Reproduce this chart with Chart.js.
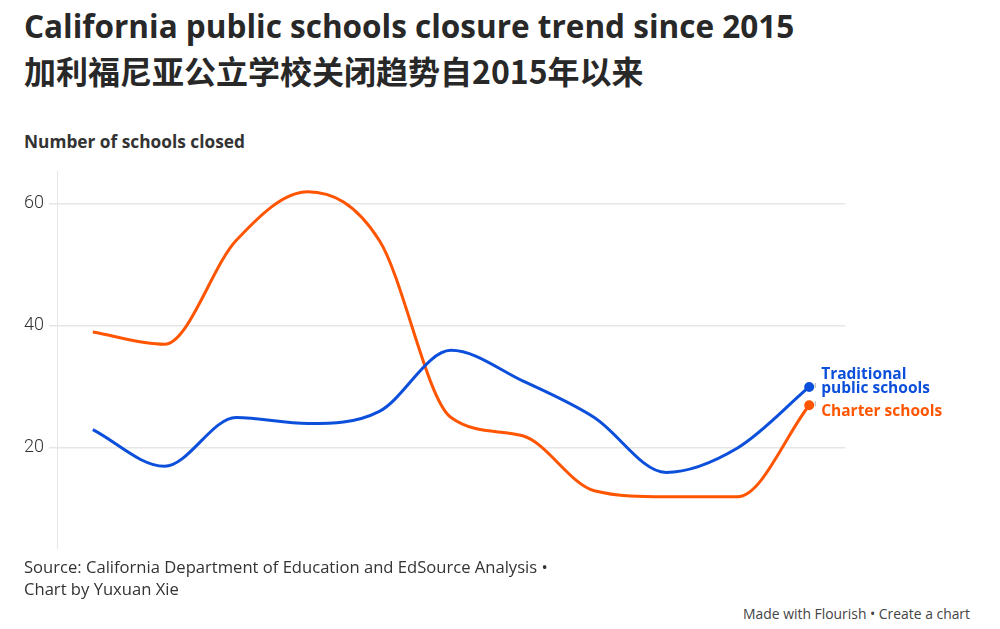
<!DOCTYPE html>
<html>
<head>
<meta charset="utf-8">
<script src="https://cdn.jsdelivr.net/npm/chart.js@4/dist/chart.umd.min.js"></script>
<style>
  html, body { margin: 0; padding: 0; background: #fff; }
  body { width: 1000px; height: 629px; position: relative; overflow: hidden; font-family: "Open Sans", Roboto, sans-serif; color: #333; }
  .title { position: absolute; left: 24px; top: 4px; font-size: 31.5px; font-weight: 700; color: #282828; line-height: 44px; }
  .title .zh { font-family: "Noto Sans CJK SC", sans-serif; font-size: 32px; }
  .sub { position: absolute; left: 24px; top: 130px; font-size: 17.3px; font-weight: 700; color: #333; }
  .chart-wrap { position: absolute; left: 0; top: 160px; width: 1000px; height: 400px; }
  .source { position: absolute; left: 24px; top: 556px; font-size: 16.6px; line-height: 22px; color: #333; }
  .made { position: absolute; right: 30px; top: 604px; font-size: 13.9px; color: #444; }
</style>
</head>
<body>
<div class="title">California public schools closure trend since 2015<br><span class="zh">加利福尼亚公立学校关闭趋势自2015年以来</span></div>
<div class="sub">Number of schools closed</div>
<div class="chart-wrap"><canvas id="chart" width="1000" height="400"></canvas></div>
<div class="source">Source: California Department of Education and EdSource Analysis •<br>Chart by Yuxuan Xie</div>
<div class="made">Made with Flourish • Create a chart</div>
<script>
// one point per year, 2015 onwards
const years = ['2015', '2016', '2017', '2018', '2019', '2020', '2021', '2022', '2023', '2024', '2025'];
const charterSchools = [39, 37, 54, 62, 54, 25, 22, 13, 12, 12, 27];
const traditionalSchools = [23, 17, 25, 24, 26, 36, 31, 25, 16, 20, 30];
const yTicks = [20, 40, 60];

const BLUE = '#0c4fdb';
const ORANGE = '#ff5500';

// dot on the last point only
function lastDot(n) {
  return years.map((_, i) => (i === years.length - 1 ? n : 0));
}

// end-of-line labels next to the last point
const endLabels = {
  id: 'endLabels',
  afterDatasetsDraw(chart) {
    const ctx = chart.ctx;
    ctx.save();
    ctx.font = 'bold 15.5px "Open Sans", sans-serif';
    ctx.textBaseline = 'middle';
    chart.data.datasets.forEach((ds, i) => {
      const meta = chart.getDatasetMeta(i);
      const pt = meta.data[meta.data.length - 1];
      const lines = ds.endLabel;
      ctx.fillStyle = ds.borderColor;
      const x = pt.x + 12;
      const y0 = pt.y + ds.labelShift - (lines.length - 1) * 7;
      lines.forEach((t, j) => ctx.fillText(t, x, y0 + j * 14));
      // little connector tick
      ctx.strokeStyle = '#aaa';
      ctx.lineWidth = 1;
      ctx.beginPath();
      ctx.moveTo(pt.x + 6, pt.y - 4);
      ctx.lineTo(pt.x + 6, pt.y + 1);
      ctx.stroke();
    });
    ctx.restore();
  }
};

new Chart(document.getElementById('chart'), {
  type: 'line',
  data: {
    labels: years,
    datasets: [
      {
        label: 'Traditional public schools',
        endLabel: ['Traditional', 'public schools'],
        labelShift: -5,
        data: traditionalSchools,
        borderColor: BLUE,
        backgroundColor: BLUE,
        borderWidth: 3,
        pointRadius: lastDot(3.5),
        pointHoverRadius: lastDot(3.5),
        cubicInterpolationMode: 'monotone'
      },
      {
        label: 'Charter schools',
        endLabel: ['Charter schools'],
        labelShift: 6,
        data: charterSchools,
        borderColor: ORANGE,
        backgroundColor: ORANGE,
        borderWidth: 3,
        pointRadius: lastDot(3.5),
        pointHoverRadius: lastDot(3.5),
        cubicInterpolationMode: 'monotone'
      }
    ]
  },
  options: {
    responsive: false,
    animation: false,
    layout: {
      padding: { left: 0, right: 155, top: 11, bottom: 11 }
    },
    plugins: {
      legend: { display: false },
      tooltip: { enabled: false }
    },
    scales: {
      x: {
        display: false,
        offset: true
      },
      y: {
        min: 3.44,
        max: 65.4,
        afterBuildTicks: axis => { axis.ticks = yTicks.map(v => ({ value: v })); },
        afterFit: axis => {
          axis.width = 57;
          axis.paddingTop = 0;
          axis.paddingBottom = 0;
        },
        border: { display: true, color: '#e6e6e6', width: 1 },
        grid: { color: '#e6e6e6', lineWidth: 1.5, tickLength: 8, drawTicks: true },
        ticks: {
          color: '#333',
          padding: 5,
          font: { family: 'Roboto', size: 18, weight: 300 }
        }
      }
    }
  },
  plugins: [endLabels]
});
</script>
</body>
</html>
